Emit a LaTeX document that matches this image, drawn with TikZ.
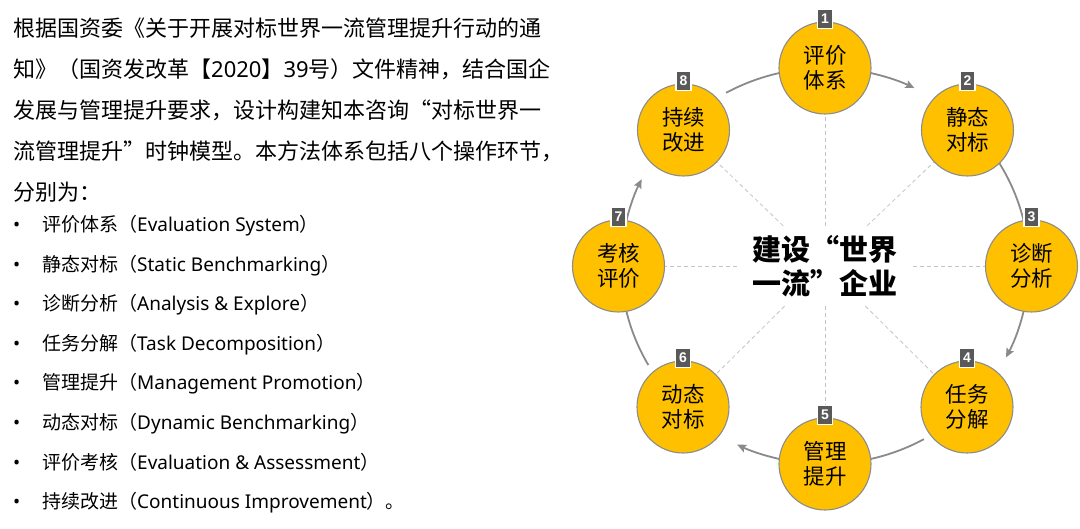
\documentclass[tikz,border=0pt]{standalone}
\usepackage{fontspec}
\setmainfont{Noto Sans CJK SC}
\newfontfamily\latinfont{Noto Sans}
\newfontfamily\badgefont{Liberation Sans}
\usetikzlibrary{arrows.meta,calc}
\definecolor{clockgold}{HTML}{FFC000}
\definecolor{ringgray}{HTML}{8C8C8C}
\definecolor{badgegray}{HTML}{595959}
\definecolor{arcgray}{HTML}{8A8A8A}
\definecolor{spokegray}{HTML}{C4C4C4}
\newcommand{\la}[1]{{\latinfont #1}}

\begin{document}
\begin{tikzpicture}[x=1pt,y=1pt,
    stage/.style={circle, draw=ringgray, line width=1.1pt, fill=clockgold, minimum size=92pt, inner sep=0pt, align=center, font=\fontsize{21.5}{25.5}\selectfont},
    badge/.style={draw=white, line width=1.2pt, fill=badgegray, minimum width=15pt, minimum height=19pt, inner sep=0pt, text=white, font=\badgefont\bfseries\fontsize{14}{14}\selectfont},
    hubtext/.style={minimum width=176pt, minimum height=80pt, inner sep=0pt, align=center, font=\bfseries\fontsize{29}{34}\selectfont},
    spoke/.style={draw=spokegray, line width=0.8pt, dash pattern=on 4pt off 3pt},
    ring/.style={draw=arcgray, line width=1.8pt},
    ringarrow/.style={ring, -{Stealth[length=9pt,width=8pt,inset=1.5pt]}},
    intro/.style={anchor=base west, inner sep=0pt, font=\fontsize{22}{22}\selectfont},
    listrow/.style={anchor=base west, inner sep=0pt, font=\fontsize{19}{19}\selectfont}]
\useasboundingbox (0,0) rectangle (1080,528);

% Writing the introduction
\node[intro] (p1) at (13,491.5) {根据国资委《关于开展对标世界一流管理提升行动的通};
\node[intro] (p2) at (13,450.5) {知》（国资发改革【\la{2020}】\la{39}号）文件精神，结合国企};
\node[intro] (p3) at (13,409.5) {发展与管理提升要求，设计构建知本咨询“对标世界一};
\node[intro] (p4) at (13,368.5) {流管理提升”时钟模型。本方法体系包括八个操作环节，};
\node[intro] (p5) at (13,327.5) {分别为：};

% Writing the eight items
\node[listrow] (r1) at (13,296) {\makebox[29pt][l]{\la{•}}评价体系（\la{Evaluation System}）};
\node[listrow] (r2) at (13,256.5) {\makebox[29pt][l]{\la{•}}静态对标（\la{Static Benchmarking}）};
\node[listrow] (r3) at (13,217) {\makebox[29pt][l]{\la{•}}诊断分析（\la{Analysis \& Explore}）};
\node[listrow] (r4) at (13,177.5) {\makebox[29pt][l]{\la{•}}任务分解（\la{Task Decomposition}）};
\node[listrow] (r5) at (13,138) {\makebox[29pt][l]{\la{•}}管理提升（\la{Management Promotion}）};
\node[listrow] (r6) at (13,98.5) {\makebox[29pt][l]{\la{•}}动态对标（\la{Dynamic Benchmarking}）};
\node[listrow] (r7) at (13,59) {\makebox[29pt][l]{\la{•}}评价考核（\la{Evaluation \& Assessment}）};
\node[listrow] (r8) at (13,19.5) {\makebox[29pt][l]{\la{•}}持续改进（\la{Continuous Improvement}）。};

% Writing the centre of the clock
\node[hubtext] (hub) at (825,262) {建设“世界\\一流”企业};

% Drawing the ring between the stages
\coordinate (s12) at ($(hub.center)+(79:204pt and 198pt)$);
\draw[ringarrow] (s12) arc[start angle=79, end angle=64, x radius=204pt, y radius=198pt];
\coordinate (s23) at ($(hub.center)+(32:204pt and 198pt)$);
\draw[ring] (s23) arc[start angle=32, end angle=11, x radius=204pt, y radius=198pt];
\coordinate (s34) at ($(hub.center)+(-11:204pt and 198pt)$);
\draw[ringarrow] (s34) arc[start angle=-11, end angle=-27.5, x radius=204pt, y radius=198pt];
\coordinate (s45) at ($(hub.center)+(-61:204pt and 198pt)$);
\draw[ring] (s45) arc[start angle=-61, end angle=-79, x radius=204pt, y radius=198pt];
\coordinate (s56) at ($(hub.center)+(-101:204pt and 198pt)$);
\draw[ringarrow] (s56) arc[start angle=-101, end angle=-115.5, x radius=204pt, y radius=198pt];
\coordinate (s67) at ($(hub.center)+(-150:204pt and 198pt)$);
\draw[ring] (s67) arc[start angle=-150, end angle=-169, x radius=204pt, y radius=198pt];
\coordinate (s78) at ($(hub.center)+(169:204pt and 198pt)$);
\draw[ringarrow] (s78) arc[start angle=169, end angle=154, x radius=204pt, y radius=198pt];
\coordinate (s81) at ($(hub.center)+(119:204pt and 198pt)$);
\draw[ring] (s81) arc[start angle=119, end angle=101, x radius=204pt, y radius=198pt];

% Drawing the stage circles
\node[stage] (c1) at (825,460) {评价\\体系};
\node[stage] (c2) at (967.5,398) {静态\\对标};
\node[stage] (c3) at (1031.5,262) {诊断\\分析};
\node[stage] (c4) at (967,121) {任务\\分解};
\node[stage] (c5) at (825,64) {管理\\提升};
\node[stage] (c6) at (683,121) {动态\\对标};
\node[stage] (c7) at (618.5,262) {考核\\评价};
\node[stage] (c8) at (683.5,398) {持续\\改进};

% Drawing the spokes
\draw[spoke] (hub) -- (c1);
\draw[spoke] (hub) -- (c2);
\draw[spoke] (hub) -- (c3);
\draw[spoke] (hub) -- (c4);
\draw[spoke] (hub) -- (c5);
\draw[spoke] (hub) -- (c6);
\draw[spoke] (hub) -- (c7);
\draw[spoke] (hub) -- (c8);

% Marking the stages by number
\node[badge] (b1) at ($(c1.north)+(0,2.5)$) {1};
\node[badge] (b2) at ($(c2.north)+(0,2.5)$) {2};
\node[badge] (b3) at ($(c3.north)+(0,2.5)$) {3};
\node[badge] (b4) at ($(c4.north)+(0,2.5)$) {4};
\node[badge] (b5) at ($(c5.north)+(0,2.5)$) {5};
\node[badge] (b6) at ($(c6.north)+(0,2.5)$) {6};
\node[badge] (b7) at ($(c7.north)+(0,2.5)$) {7};
\node[badge] (b8) at ($(c8.north)+(0,2.5)$) {8};
\end{tikzpicture}
\end{document}
